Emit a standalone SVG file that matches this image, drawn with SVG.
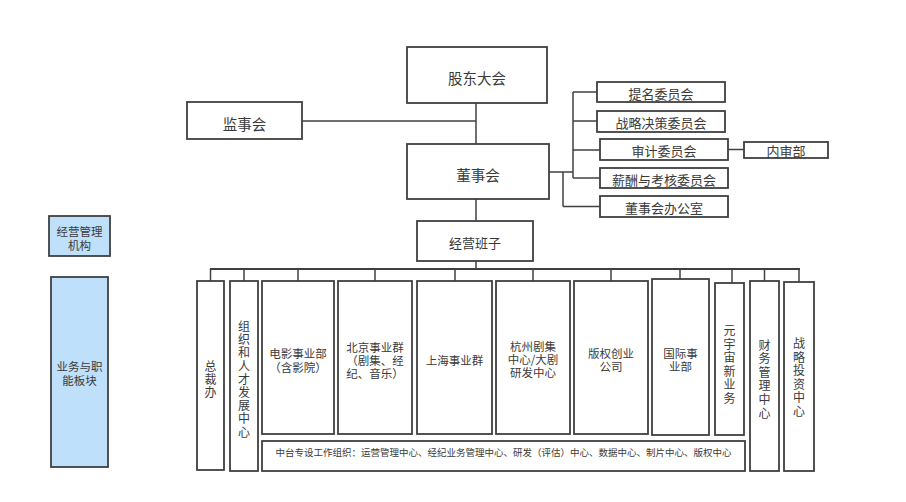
<svg xmlns="http://www.w3.org/2000/svg" width="906" height="502" viewBox="0 0 906 502">
<style>
.box{fill:#ffffff;stroke:#404040;stroke-width:1.8}
.blue{fill:#bfe0fa;stroke:#404040;stroke-width:1.8}
.t{font-family:"Noto Sans CJK SC","Noto Sans",sans-serif;fill:#3a3a3a;text-anchor:middle;dominant-baseline:central}
.f145{font-size:14.5px}
.f13{font-size:13px}
.f115{font-size:11.5px}
.f12{font-size:12px}
.f95{font-size:9.5px}
.conn line{stroke:#404040;stroke-width:1.5;fill:none}
</style>
<rect width="906" height="502" fill="#ffffff"/>

<g id="connectors" class="conn">
<line x1="476" y1="103" x2="476" y2="144"/>
<line x1="302" y1="121" x2="476" y2="121"/>
<line x1="549" y1="172" x2="573" y2="172"/>
<line x1="573" y1="92" x2="573" y2="178"/>
<line x1="573" y1="92" x2="597" y2="92"/>
<line x1="573" y1="121" x2="597" y2="121"/>
<line x1="573" y1="150" x2="600" y2="150"/>
<line x1="573" y1="178" x2="600" y2="178"/>
<line x1="563" y1="172" x2="563" y2="206.5"/>
<line x1="563" y1="206.5" x2="600" y2="206.5"/>
<line x1="728" y1="149.5" x2="744" y2="149.5"/>
<line x1="476" y1="199" x2="476" y2="221"/>
<line x1="476" y1="261" x2="476" y2="269"/>
<line x1="210" y1="269" x2="800" y2="269" style="stroke-width:2.2"/>
<line x1="210.5" y1="269" x2="210.5" y2="281"/>
<line x1="244" y1="269" x2="244" y2="281"/>
<line x1="298" y1="269" x2="298" y2="281"/>
<line x1="375" y1="269" x2="375" y2="281"/>
<line x1="455" y1="269" x2="455" y2="281"/>
<line x1="533" y1="269" x2="533" y2="281"/>
<line x1="611" y1="269" x2="611" y2="281"/>
<line x1="680" y1="269" x2="680" y2="279"/>
<line x1="732" y1="269" x2="732" y2="283"/>
<line x1="764.5" y1="269" x2="764.5" y2="281"/>
<line x1="799" y1="269" x2="799" y2="282"/>
</g>

<g id="gudongdahui"><rect class="box" x="407" y="47" width="140" height="56"/><text class="t f145" x="477" y="77">股东大会</text></g>
<g id="jianshihui"><rect class="box" x="187" y="102" width="115" height="37"/><text class="t f145" x="244.5" y="123">监事会</text></g>
<g id="dongshihui"><rect class="box" x="407" y="144" width="142" height="55"/><text class="t f145" x="478" y="174">董事会</text></g>
<g id="jingyingbanzi"><rect class="box" x="417" y="221" width="116" height="40"/><text class="t f13" x="475" y="242">经营班子</text></g>

<g id="timing"><rect class="box" x="597" y="82" width="128" height="20"/><text class="t f13" x="661" y="93">提名委员会</text></g>
<g id="zhanluejuece"><rect class="box" x="597" y="111" width="128" height="21"/><text class="t f13" x="661" y="122.5">战略决策委员会</text></g>
<g id="shenji"><rect class="box" x="600" y="139" width="128" height="21"/><text class="t f13" x="664" y="150.5">审计委员会</text></g>
<g id="neishenbu"><rect class="box" x="744" y="142" width="84" height="16"/><text class="t f13" x="786" y="150.5">内审部</text></g>
<g id="xinchou"><rect class="box" x="600" y="168" width="128" height="20"/><text class="t f13" x="664" y="179">薪酬与考核委员会</text></g>
<g id="dongban"><rect class="box" x="600" y="196" width="128" height="21"/><text class="t f13" x="664" y="207.5">董事会办公室</text></g>

<g id="legend-jingying"><rect class="blue" x="49" y="216" width="61" height="40"/><text class="t f115" x="79.5" y="230.5">经营管理</text><text class="t f115" x="79.5" y="244.5">机构</text></g>
<g id="legend-yewu"><rect class="blue" x="51" y="277" width="57" height="190"/><text class="t f115" x="79.5" y="366">业务与职</text><text class="t f115" x="79.5" y="380">能板块</text></g>

<g id="zongcaiban"><rect class="box" x="197" y="281" width="27" height="189"/><text class="t f12" x="210.5" y="365"><tspan x="210.5" dy="0">总</tspan><tspan x="210.5" dy="13">裁</tspan><tspan x="210.5" dy="13">办</tspan></text></g>
<g id="zuzhi"><rect class="box" x="230" y="281" width="28" height="190"/><text class="t f12" x="244" y="325"><tspan x="244" dy="0">组</tspan><tspan x="244" dy="13.2">织</tspan><tspan x="244" dy="13.2">和</tspan><tspan x="244" dy="13.2">人</tspan><tspan x="244" dy="13.2">才</tspan><tspan x="244" dy="13.2">发</tspan><tspan x="244" dy="13.2">展</tspan><tspan x="244" dy="13.2">中</tspan><tspan x="244" dy="13.2">心</tspan></text></g>
<g id="dianying"><rect class="box" x="262" y="281" width="72" height="153"/><text class="t f115" x="298" y="353">电影事业部</text><text class="t f115" x="298" y="366.5">（含影院）</text></g>
<g id="beijing"><rect class="box" x="338" y="281" width="74" height="153"/><text class="t f115" x="375" y="347">北京事业群</text><text class="t f115" x="375" y="360">（剧集、经</text><text class="t f115" x="375" y="373">纪、音乐）</text></g>
<g id="shanghai"><rect class="box" x="417" y="281" width="75" height="153"/><text class="t f115" x="454.5" y="359.5">上海事业群</text></g>
<g id="hangzhou"><rect class="box" x="496" y="281" width="74" height="153"/><text class="t f115" x="533" y="345.5">杭州剧集</text><text class="t f115" x="533" y="358.5">中心/大剧</text><text class="t f115" x="533" y="371.5">研发中心</text></g>
<g id="banquan"><rect class="box" x="574" y="281" width="74" height="153"/><text class="t f115" x="611" y="353">版权创业</text><text class="t f115" x="611" y="366">公司</text></g>
<g id="guoji"><rect class="box" x="652" y="279" width="57" height="156"/><text class="t f115" x="680.5" y="352.5">国际事</text><text class="t f115" x="680.5" y="366">业部</text></g>
<g id="yuanyuzhou"><rect class="box" x="715" y="283" width="29" height="152"/><text class="t f12" x="729.5" y="329"><tspan x="729.5" dy="0">元</tspan><tspan x="729.5" dy="13.5">宇</tspan><tspan x="729.5" dy="13.5">宙</tspan><tspan x="729.5" dy="13.5">新</tspan><tspan x="729.5" dy="13.5">业</tspan><tspan x="729.5" dy="13.5">务</tspan></text></g>
<g id="caiwu"><rect class="box" x="750" y="281" width="29" height="190"/><text class="t f12" x="764.5" y="343.5"><tspan x="764.5" dy="0">财</tspan><tspan x="764.5" dy="13.6">务</tspan><tspan x="764.5" dy="13.6">管</tspan><tspan x="764.5" dy="13.6">理</tspan><tspan x="764.5" dy="13.6">中</tspan><tspan x="764.5" dy="13.6">心</tspan></text></g>
<g id="zhanluetouzi"><rect class="box" x="784" y="282" width="30" height="189"/><text class="t f12" x="799" y="342"><tspan x="799" dy="0">战</tspan><tspan x="799" dy="13.6">略</tspan><tspan x="799" dy="13.6">投</tspan><tspan x="799" dy="13.6">资</tspan><tspan x="799" dy="13.6">中</tspan><tspan x="799" dy="13.6">心</tspan></text></g>
<g id="zhongtai"><rect class="box" x="262" y="441" width="483" height="30"/><text class="t f95" x="503.5" y="452">中台专设工作组织：运营管理中心、经纪业务管理中心、研发（评估）中心、数据中心、制片中心、版权中心</text></g>
</svg>
